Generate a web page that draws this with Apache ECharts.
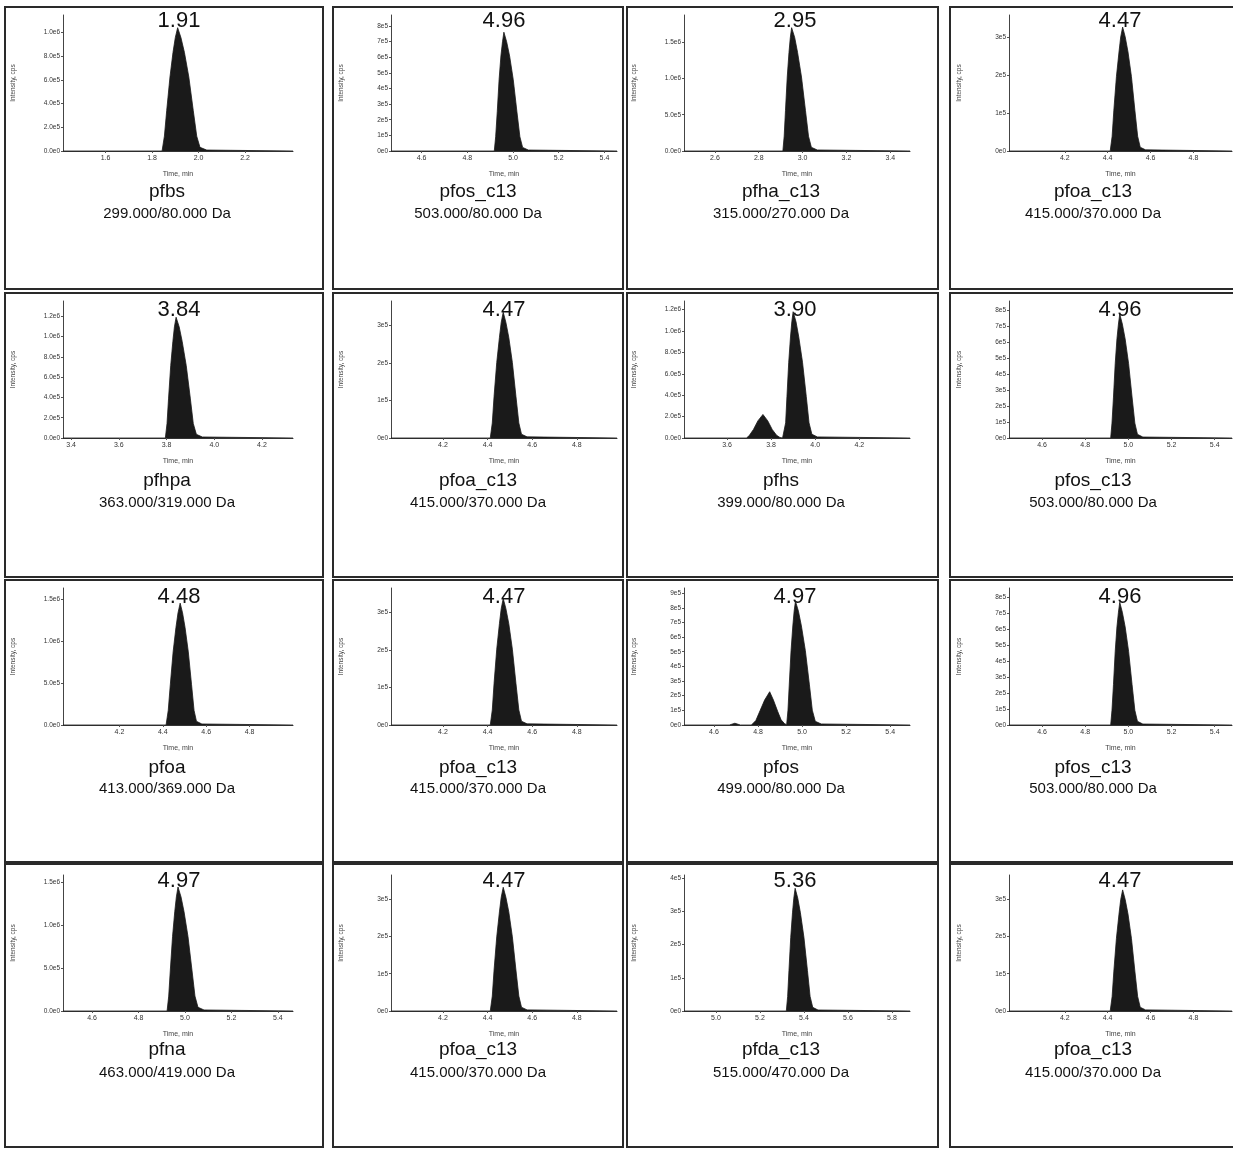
<!DOCTYPE html>
<html>
<head>
<meta charset="utf-8">
<script src="https://cdn.jsdelivr.net/npm/echarts@6/dist/echarts.min.js"></script>
<style>
html,body{margin:0;padding:0;background:#fff;}
#chart{width:1233px;height:1149px;}
</style>
</head>
<body>
<div id="chart"></div>
<script>
// ---------- DATA ----------
const compoundNames = ['pfbs','pfos_c13','pfha_c13','pfoa_c13','pfhpa','pfoa_c13','pfhs','pfos_c13','pfoa','pfoa_c13','pfos','pfos_c13','pfna','pfoa_c13','pfda_c13','pfoa_c13'];
const transitions = ['299.000/80.000 Da','503.000/80.000 Da','315.000/270.000 Da','415.000/370.000 Da','363.000/319.000 Da','415.000/370.000 Da','399.000/80.000 Da','503.000/80.000 Da','413.000/369.000 Da','415.000/370.000 Da','499.000/80.000 Da','503.000/80.000 Da','463.000/419.000 Da','415.000/370.000 Da','515.000/470.000 Da','415.000/370.000 Da'];
const retentionTimes = ['1.91','4.96','2.95','4.47','3.84','4.47','3.90','4.96','4.48','4.47','4.97','4.96','4.97','4.47','5.36','4.47'];

const xMin = [1.417,4.466,2.459,3.94, 3.366,3.967,3.405,4.447, 3.94,3.967,4.464,4.447, 4.475,3.967,4.855,3.94];
const xMax = [2.406,5.455,3.49,4.98, 4.33,4.98,4.43,5.48, 5.0,4.98,5.49,5.48, 5.465,4.98,5.882,4.98];
const xTicksA = [1.6,1.8,2.0,2.2];
const xTicksB = [4.6,4.8,5.0,5.2,5.4];
const xTicksC = [2.6,2.8,3.0,3.2,3.4];
const xTicksD = [4.2,4.4,4.6,4.8];
const xTicksE = [3.4,3.6,3.8,4.0,4.2];
const xTicksF = [3.6,3.8,4.0,4.2];
const xTicksG = [5.0,5.2,5.4,5.6,5.8];
const xTicks = [xTicksA,xTicksB,xTicksC,xTicksD, xTicksE,xTicksD,xTicksF,xTicksB, xTicksD,xTicksD,xTicksB,xTicksB, xTicksB,xTicksD,xTicksG,xTicksD];

const yMax = [1.147e6,8.7e5,1.875e6,3.6e5, 1.35e6,3.65e5,1.28e6,8.57e5, 1.63e6,3.65e5,9.35e5,8.6e5, 1.59e6,3.65e5,4.1e5,3.65e5];
const yTicks2e5 = [0,2e5,4e5,6e5,8e5,1e6];
const yLabels2e5 = ['0.0e0','2.0e5','4.0e5','6.0e5','8.0e5','1.0e6'];
const yTicks2e5b = [0,2e5,4e5,6e5,8e5,1e6,1.2e6];
const yLabels2e5b = ['0.0e0','2.0e5','4.0e5','6.0e5','8.0e5','1.0e6','1.2e6'];
const yTicks5e5 = [0,5e5,1e6,1.5e6];
const yLabels5e5 = ['0.0e0','5.0e5','1.0e6','1.5e6'];
const yTicks1e5x8 = [0,1e5,2e5,3e5,4e5,5e5,6e5,7e5,8e5];
const yLabels1e5x8 = ['0e0','1e5','2e5','3e5','4e5','5e5','6e5','7e5','8e5'];
const yTicks1e5x9 = [0,1e5,2e5,3e5,4e5,5e5,6e5,7e5,8e5,9e5];
const yLabels1e5x9 = ['0e0','1e5','2e5','3e5','4e5','5e5','6e5','7e5','8e5','9e5'];
const yTicks1e5x3 = [0,1e5,2e5,3e5];
const yLabels1e5x3 = ['0e0','1e5','2e5','3e5'];
const yTicks1e5x4 = [0,1e5,2e5,3e5,4e5];
const yLabels1e5x4 = ['0e0','1e5','2e5','3e5','4e5'];
const yTicks = [yTicks2e5,yTicks1e5x8,yTicks5e5,yTicks1e5x3, yTicks2e5b,yTicks1e5x3,yTicks2e5b,yTicks1e5x8, yTicks5e5,yTicks1e5x3,yTicks1e5x9,yTicks1e5x8, yTicks5e5,yTicks1e5x3,yTicks1e5x4,yTicks1e5x3];
const yTickLabels = [yLabels2e5,yLabels1e5x8,yLabels5e5,yLabels1e5x3, yLabels2e5b,yLabels1e5x3,yLabels2e5b,yLabels1e5x8, yLabels5e5,yLabels1e5x3,yLabels1e5x9,yLabels1e5x8, yLabels5e5,yLabels1e5x3,yLabels1e5x4,yLabels1e5x3];

// peak traces (time, min / intensity, cps)
const pfbsTime = [1.843,1.853,1.863,1.877,1.890,1.900,1.910,1.924,1.939,1.958,1.977,1.992,2.006,2.035];
const pfbsIntensity = [0,0.125e6,0.343e6,0.624e6,0.832e6,0.957e6,1.04e6,0.957e6,0.832e6,0.624e6,0.343e6,0.125e6,0.031e6,0.008e6];

const pfosC13Time = [4.918,4.924,4.931,4.939,4.947,4.954,4.960,4.972,4.985,5.001,5.017,5.030,5.042,5.067];
const pfosC13IntensityA = [0,0.091e6,0.251e6,0.456e6,0.608e6,0.699e6,0.76e6,0.699e6,0.608e6,0.456e6,0.251e6,0.091e6,0.023e6,0.006e6];
const pfosC13IntensityB = [0,0.093e6,0.256e6,0.465e6,0.62e6,0.713e6,0.775e6,0.713e6,0.62e6,0.465e6,0.256e6,0.093e6,0.023e6,0.006e6];
const pfosC13IntensityC = [0,0.092e6,0.254e6,0.462e6,0.616e6,0.708e6,0.77e6,0.708e6,0.616e6,0.462e6,0.254e6,0.092e6,0.023e6,0.006e6];

const pfhaC13Time = [2.910,2.916,2.922,2.930,2.938,2.944,2.950,2.964,2.977,2.995,3.013,3.027,3.040,3.067];
const pfhaC13Intensity = [0,0.204e6,0.561e6,1.02e6,1.36e6,1.564e6,1.7e6,1.564e6,1.36e6,1.02e6,0.561e6,0.204e6,0.051e6,0.014e6];

const pfoaC13Time = [4.412,4.421,4.429,4.441,4.453,4.461,4.470,4.482,4.495,4.511,4.527,4.540,4.552,4.577];
const pfoaC13IntensityA = [0,0.039e6,0.108e6,0.197e6,0.262e6,0.302e6,0.328e6,0.302e6,0.262e6,0.197e6,0.108e6,0.039e6,0.010e6,0.003e6];
const pfoaC13IntensityB = [0,0.040e6,0.111e6,0.201e6,0.268e6,0.308e6,0.335e6,0.308e6,0.268e6,0.201e6,0.111e6,0.040e6,0.010e6,0.003e6];
const pfoaC13IntensityC = [0,0.040e6,0.111e6,0.202e6,0.270e6,0.310e6,0.337e6,0.310e6,0.270e6,0.202e6,0.111e6,0.040e6,0.010e6,0.003e6];
const pfoaC13IntensityD = [0,0.040e6,0.110e6,0.199e6,0.266e6,0.305e6,0.332e6,0.305e6,0.266e6,0.199e6,0.110e6,0.040e6,0.010e6,0.003e6];
const pfoaC13IntensityE = [0,0.039e6,0.107e6,0.195e6,0.260e6,0.299e6,0.325e6,0.299e6,0.260e6,0.195e6,0.107e6,0.039e6,0.010e6,0.003e6];

const pfhpaTime = [3.795,3.802,3.8085,3.8175,3.8265,3.833,3.840,3.853,3.8655,3.8825,3.8995,3.912,3.925,3.950];
const pfhpaIntensity = [0,0.143e6,0.393e6,0.714e6,0.952e6,1.095e6,1.19e6,1.095e6,0.952e6,0.714e6,0.393e6,0.143e6,0.036e6,0.010e6];

const pfhsTime = [3.688,3.700,3.720,3.740,3.763,3.785,3.805,3.825,3.840,3.852,3.860,3.866,3.872,3.880,3.888,3.894,3.900,3.913,3.9255,3.9425,3.9595,3.972,3.985,4.010];
const pfhsIntensity = [0,0.02e6,0.08e6,0.16e6,0.22e6,0.16e6,0.08e6,0.025e6,0.005e6,0,0.005e6,0.142e6,0.389e6,0.708e6,0.944e6,1.086e6,1.18e6,1.086e6,0.944e6,0.708e6,0.389e6,0.142e6,0.035e6,0.010e6];

const pfoaTime = [4.415,4.425,4.4345,4.4475,4.4605,4.470,4.480,4.491,4.5025,4.5175,4.5325,4.544,4.555,4.580];
const pfoaIntensity = [0,0.174e6,0.479e6,0.87e6,1.16e6,1.334e6,1.45e6,1.334e6,1.16e6,0.87e6,0.479e6,0.174e6,0.044e6,0.012e6];

const pfosTime = [4.670,4.695,4.720,4.770,4.790,4.810,4.830,4.853,4.870,4.890,4.905,4.920,4.930,4.936,4.942,4.950,4.958,4.964,4.970,4.9835,4.997,5.015,5.033,5.0465,5.060,5.087];
const pfosIntensity = [0,0.012e6,0,0,0.03e6,0.10e6,0.17e6,0.227e6,0.17e6,0.09e6,0.035e6,0.01e6,0.002e6,0.101e6,0.279e6,0.507e6,0.676e6,0.777e6,0.845e6,0.777e6,0.676e6,0.507e6,0.279e6,0.101e6,0.025e6,0.007e6];

const pfnaTime = [4.923,4.930,4.937,4.9465,4.956,4.963,4.970,4.983,4.996,5.013,5.030,5.043,5.056,5.082];
const pfnaIntensity = [0,0.174e6,0.479e6,0.87e6,1.16e6,1.334e6,1.45e6,1.334e6,1.16e6,0.87e6,0.479e6,0.174e6,0.044e6,0.012e6];

const pfdaC13Time = [5.320,5.326,5.332,5.340,5.348,5.354,5.360,5.372,5.384,5.400,5.416,5.428,5.440,5.464];
const pfdaC13Intensity = [0,0.044e6,0.122e6,0.222e6,0.296e6,0.34e6,0.37e6,0.34e6,0.296e6,0.222e6,0.122e6,0.044e6,0.011e6,0.003e6];

const panelTimes = [pfbsTime,pfosC13Time,pfhaC13Time,pfoaC13Time, pfhpaTime,pfoaC13Time,pfhsTime,pfosC13Time, pfoaTime,pfoaC13Time,pfosTime,pfosC13Time, pfnaTime,pfoaC13Time,pfdaC13Time,pfoaC13Time];
const panelIntensities = [pfbsIntensity,pfosC13IntensityA,pfhaC13Intensity,pfoaC13IntensityA, pfhpaIntensity,pfoaC13IntensityB,pfhsIntensity,pfosC13IntensityB, pfoaIntensity,pfoaC13IntensityC,pfosIntensity,pfosC13IntensityC, pfnaIntensity,pfoaC13IntensityD,pfdaC13Intensity,pfoaC13IntensityE];

// ---------- LAYOUT ----------
const colLeft = [63, 391, 684, 1009];
const colRight = [293, 617, 910, 1232];
const rowTop = [15, 301, 588, 875];
const rowZero = [151, 438, 725, 1011];
const colTitleX = [179, 504, 795, 1120];
const colTextX = [167, 478, 781, 1093];
const rowTitleY = [21, 310, 597, 881];
const rowNameY = [192, 481, 768, 1050];
const rowTransY = [214, 503, 789, 1073];
const boxX = [[5,323],[333,623],[627,938],[950,1242]];
const boxY = [[7,289],[293,577],[580,862],[864,1147]];

const FONT = '"Liberation Sans", Arial, sans-serif';
const INK = '#1a1a1a';

const grids = [], xAxes = [], yAxes = [], series = [], graphics = [];
for (let i = 0; i < 16; i++) {
  const r = Math.floor(i / 4), c = i % 4;
  grids.push({left: colLeft[c], top: rowTop[r], width: colRight[c] - colLeft[c], height: rowZero[r] - rowTop[r], containLabel: false});
  const xt = xTicks[i];
  xAxes.push({
    type: 'value', gridIndex: i, min: xMin[i], max: xMax[i],
    axisLine: {show: true, onZero: false, lineStyle: {color: '#333', width: 1}},
    axisTick: {show: true, customValues: xt, length: 2, lineStyle: {color: '#555'}},
    axisLabel: {customValues: xt, formatter: v => v.toFixed(1), fontSize: 7, margin: 4, color: '#333', fontFamily: FONT},
    splitLine: {show: false},
    name: 'Time, min', nameLocation: 'middle', nameGap: 20,
    nameTextStyle: {fontSize: 7, color: '#444', fontFamily: FONT}
  });
  const yt = yTicks[i], yl = yTickLabels[i];
  yAxes.push({
    type: 'value', gridIndex: i, min: 0, max: yMax[i],
    axisLine: {show: true, lineStyle: {color: '#444', width: 1}},
    axisTick: {show: true, customValues: yt, length: 2, lineStyle: {color: '#555'}},
    axisLabel: {customValues: yt, fontSize: 6.5, margin: 3, color: '#333', fontFamily: FONT,
      formatter: v => { const k = yt.findIndex(t => Math.abs(t - v) < 1); return k >= 0 ? yl[k] : ''; }},
    splitLine: {show: false},
    name: 'Intensity, cps', nameLocation: 'middle', nameGap: 46, nameRotate: 90,
    nameTextStyle: {fontSize: 6.5, color: '#444', fontFamily: FONT}
  });
  const pts = [[xMin[i], 0]];
  panelTimes[i].forEach((t, k) => pts.push([t, panelIntensities[i][k]]));
  pts.push([xMax[i], 0]);
  series.push({
    type: 'line', xAxisIndex: i, yAxisIndex: i, data: pts, showSymbol: false, smooth: false,
    lineStyle: {color: INK, width: 0.8}, areaStyle: {color: INK, opacity: 1}, silent: true
  });
  graphics.push({type: 'text', x: colTitleX[c], y: rowTitleY[r], style: {text: retentionTimes[i], fontSize: 22, fontFamily: FONT, fill: '#111', align: 'center', verticalAlign: 'middle'}});
  graphics.push({type: 'text', x: colTextX[c], y: rowNameY[r], style: {text: compoundNames[i], fontSize: 19, fontFamily: FONT, fill: '#111', align: 'center', verticalAlign: 'middle'}});
  graphics.push({type: 'text', x: colTextX[c], y: rowTransY[r], style: {text: transitions[i], fontSize: 15, fontFamily: FONT, fill: '#111', align: 'center', verticalAlign: 'middle'}});
}
for (let r = 0; r < 4; r++) for (let c = 0; c < 4; c++) {
  graphics.push({type: 'rect', shape: {x: boxX[c][0], y: boxY[r][0], width: boxX[c][1] - boxX[c][0], height: boxY[r][1] - boxY[r][0]},
    style: {fill: 'none', stroke: '#2a2a2a', lineWidth: 2}, silent: true});
}

const chart = echarts.init(document.getElementById('chart'), null, {renderer: 'canvas'});
chart.setOption({
  animation: false,
  backgroundColor: '#fff',
  grid: grids, xAxis: xAxes, yAxis: yAxes, series: series, graphic: graphics
});
</script>
</body>
</html>
